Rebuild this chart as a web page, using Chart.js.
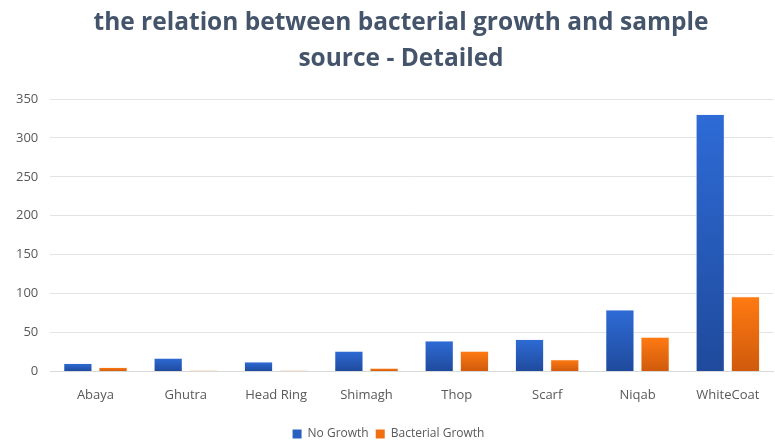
<!DOCTYPE html>
<html>
<head>
<meta charset="utf-8">
<script src="https://cdn.jsdelivr.net/npm/chart.js@4/dist/chart.umd.min.js"></script>
<style>
  html, body { margin: 0; padding: 0; background: #fff; }
  #wrap { width: 775px; height: 442px; position: relative; }
</style>
</head>
<body>
<div id="wrap"><canvas id="chart" width="775" height="442"></canvas></div>
<script>
const sources = ['Abaya', 'Ghutra', 'Head Ring', 'Shimagh', 'Thop', 'Scarf', 'Niqab', 'WhiteCoat']
const noGrowth = [10, 17, 12, 26, 39, 41, 79, 330]
const bacterialGrowth = [5, 1, 1, 4, 26, 15, 44, 96]
const yTicks = [0, 50, 100, 150, 200, 250, 300, 350]

// vertical gradient per bar, light at the top and darker at the base
const barGradient = (top, bottom) => (ctx) => {
  const chart = ctx.chart
  const y = chart.scales && chart.scales.y
  if (!y || ctx.parsed == null) return top
  const y0 = y.getPixelForValue(0)
  const y1 = y.getPixelForValue(ctx.parsed.y)
  if (!isFinite(y0) || !isFinite(y1) || y0 === y1) return top
  const g = chart.ctx.createLinearGradient(0, y1, 0, y0)
  g.addColorStop(0, top)
  g.addColorStop(1, bottom)
  return g
}

// the title is centred over the plot area rather than the whole canvas
const titleOffset = {
  id: 'titleOffset',
  afterLayout(chart) {
    if (chart.titleBlock) chart.titleBlock.left += 25
  },
}

const font = '"Open Sans", "Liberation Sans", sans-serif'

new Chart(document.getElementById('chart'), {
  type: 'bar',
  plugins: [titleOffset],
  data: {
    labels: sources,
    datasets: [
      {
        label: 'No Growth',
        data: noGrowth,
        backgroundColor: barGradient('#2e6bd6', '#1f4a9c'),
        borderColor: '#c9d8f2',
        borderWidth: 0.5,
      },
      {
        label: 'Bacterial Growth',
        data: bacterialGrowth,
        backgroundColor: barGradient('#ff7a12', '#cf5a0c'),
        borderColor: '#f7d2b4',
        borderWidth: 0.5,
      },
    ],
  },
  options: {
    responsive: false,
    animation: false,
    devicePixelRatio: 1,
    layout: { padding: { left: 4, right: 2, top: 0, bottom: -8 } },
    datasets: {
      bar: { categoryPercentage: 0.78, barPercentage: 0.8 },
    },
    plugins: {
      title: {
        display: true,
        text: ['the relation between bacterial growth and sample', 'source - Detailed'],
        color: '#44546a',
        font: { family: font, size: 24.5, weight: 'bold', lineHeight: 1.47 },
        padding: { top: 5, bottom: 22 },
      },
      legend: {
        position: 'bottom',
        labels: {
          color: '#595959',
          font: { family: font, size: 12 },
          boxWidth: 9,
          boxHeight: 9,
          padding: 7,
          generateLabels: (chart) => chart.data.datasets.map((ds, i) => ({
            text: ds.label,
            fillStyle: i === 0 ? '#2a5fbf' : '#f06d10',
            strokeStyle: 'transparent',
            lineWidth: 0,
            datasetIndex: i,
            fontColor: '#595959',
          })),
        },
      },
      tooltip: { enabled: false },
    },
    scales: {
      x: {
        grid: { display: false },
        border: { display: true, color: '#d9d9d9' },
        ticks: { color: '#595959', font: { family: font, size: 13 }, padding: 8, maxRotation: 0 },
        afterFit: (axis) => { axis.height += 10 },
      },
      y: {
        min: 0,
        max: 350,
        afterBuildTicks: (axis) => { axis.ticks = yTicks.map((v) => ({ value: v })) },
        grid: { color: '#e3e3e3', drawTicks: false },
        border: { display: false },
        ticks: { color: '#595959', font: { family: font, size: 13 }, padding: 12 },
      },
    },
  },
})
</script>
</body>
</html>
